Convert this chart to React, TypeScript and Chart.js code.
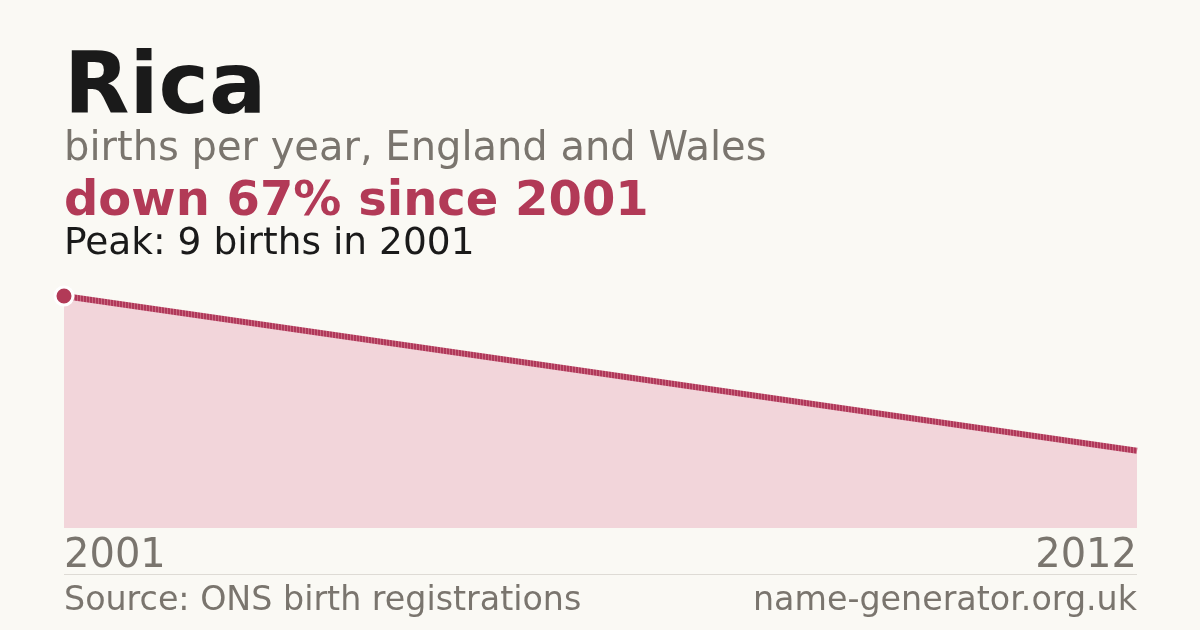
import React, { useEffect, useRef } from "react";
import { Chart, registerables } from "chart.js";

Chart.register(...registerables);

const years: number[] = [2001, 2012];
const births: number[] = [9, 3];
const tickYears: number[] = [2001, 2012];

const TITLE = "Rica";
const SUBTITLE = "births per year, England and Wales";
const HEADLINE = "down 67% since 2001";
const PEAK = "Peak: 9 births in 2001";
const SOURCE = "Source: ONS birth registrations";
const SITE = "name-generator.org.uk";

const BG = "#faf9f4";
const RED = "#b23a57";
const GREY = "#7a756e";
const FONT = "'DejaVu Sans', sans-serif";

function stripePattern(): CanvasPattern | string {
  const c = document.createElement("canvas");
  c.width = 3;
  c.height = 3;
  const ctx = c.getContext("2d");
  if (!ctx) return "#b6405f";
  ctx.fillStyle = "#b0385a";
  ctx.fillRect(0, 0, 2, 3);
  ctx.fillStyle = "#c9687f";
  ctx.fillRect(2, 0, 1, 3);
  return ctx.createPattern(c, "repeat") || "#b6405f";
}

export default function App() {
  const ref = useRef<HTMLCanvasElement | null>(null);

  useEffect(() => {
    if (!ref.current) return;
    const chart = new Chart(ref.current, {
      type: "line",
      data: {
        datasets: [
          {
            data: years.map((y, i) => ({ x: y, y: births[i] })),
            borderColor: stripePattern(),
            borderWidth: 6,
            backgroundColor: "#f2d5da",
            fill: "origin",
            tension: 0,
            pointRadius: [9, 0],
            pointBackgroundColor: RED,
            pointBorderColor: "#ffffff",
            pointBorderWidth: 3,
            clip: false,
          } as any,
        ],
      },
      options: {
        animation: false,
        responsive: false,
        maintainAspectRatio: false,
        devicePixelRatio: 1,
        layout: { padding: { left: 64, right: 63, top: 296, bottom: 44 } },
        plugins: { legend: { display: false }, tooltip: { enabled: false } },
        scales: {
          x: {
            type: "linear",
            min: years[0],
            max: years[years.length - 1],
            border: { display: false },
            grid: { display: false, drawTicks: false },
            afterBuildTicks: (scale: any) => {
              scale.ticks = tickYears.map((v) => ({ value: v }));
            },
            ticks: {
              align: "inner",
              padding: 5,
              color: GREY,
              font: { family: FONT, size: 40 },
              callback: (v: any) => String(v),
            },
          },
          y: {
            display: false,
            min: 0,
            max: 9,
          },
        },
      },
    });
    return () => chart.destroy();
  }, []);

  const abs = (top: number, size: number, extra: React.CSSProperties = {}): React.CSSProperties => ({
    position: "absolute",
    left: 64,
    top,
    fontSize: size,
    lineHeight: `${size}px`,
    fontFamily: FONT,
    whiteSpace: "nowrap",
    margin: 0,
    ...extra,
  });

  return (
    <div
      style={{
        position: "fixed",
        left: 0,
        top: 0,
        width: 1200,
        height: 630,
        background: BG,
        overflow: "hidden",
      }}
    >
      <canvas ref={ref} width={1200} height={630} style={{ position: "absolute", left: 0, top: 0, width: 1200, height: 630 }} />
      <div style={abs(40.5, 85, { fontWeight: "bold", color: "#1a1a1a" })}>{TITLE}</div>
      <div style={abs(126.2, 40, { color: GREY })}>{SUBTITLE}</div>
      <div style={abs(174.4, 48, { fontWeight: "bold", color: RED })}>{HEADLINE}</div>
      <div style={abs(222.5, 37.5, { color: "#1a1a1a" })}>{PEAK}</div>
      <div style={{ position: "absolute", left: 64, top: 574, width: 1073, height: 1, background: "#dedbd5" }} />
      <div style={abs(582, 33.3, { color: GREY })}>{SOURCE}</div>
      <div style={abs(582, 33.3, { color: GREY, left: undefined, right: 63, textAlign: "right" })}>{SITE}</div>
    </div>
  );
}
